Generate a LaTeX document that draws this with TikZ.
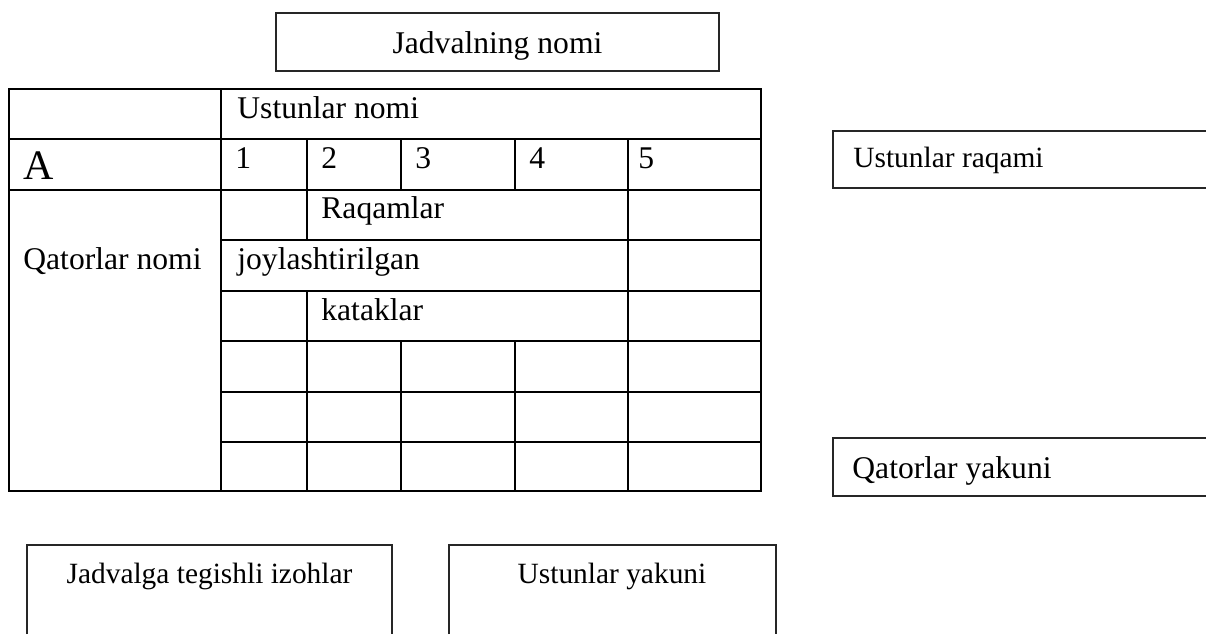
\documentclass[tikz,border=0pt]{standalone}
\usepackage{fontspec}
\setmainfont{Liberation Serif}
\begin{document}
\begin{tikzpicture}[x=0.5pt,y=-0.5pt,
  tline/.style={line width=0.8pt, draw=black},
  boxline/.style={line width=0.55pt, draw=black!85},
  big/.style={font=\fontsize{15.8}{18}\selectfont},
  mid/.style={font=\fontsize{14.7}{17}\selectfont},
  huge/.style={font=\fontsize{21}{24}\selectfont},
  lw/.style={anchor=base west, inner sep=0pt},
  lc/.style={anchor=base, inner sep=0pt}]
\useasboundingbox (0,0) rectangle (1206,634);
% ---- outer boxes ----
\draw[boxline] (276,13) rectangle (719,71);
\draw[boxline] (1206,131) -- (833,131) -- (833,188) -- (1206,188);
\draw[boxline] (1206,438) -- (833,438) -- (833,496) -- (1206,496);
\draw[boxline] (27,634) -- (27,545) -- (392,545) -- (392,634);
\draw[boxline] (449,634) -- (449,545) -- (776,545) -- (776,634);
% ---- table ----
\draw[tline] (9,89) rectangle (761,491);
\draw[tline] (9,139) -- (761,139);
\draw[tline] (9,190) -- (761,190);
\foreach \y in {240,291,341,392,442} \draw[tline] (221,\y) -- (761,\y);
\draw[tline] (221,89) -- (221,491);
\draw[tline] (307,139) -- (307,240);
\draw[tline] (307,291) -- (307,491);
\draw[tline] (401,139) -- (401,190);
\draw[tline] (401,341) -- (401,491);
\draw[tline] (515,139) -- (515,190);
\draw[tline] (515,341) -- (515,491);
\draw[tline] (628,139) -- (628,491);
% ---- texts ----
\node[lc,big] (title) at (497.5,53) {Jadvalning nomi};
\node[lw,big] (colname) at (237,118) {Ustunlar nomi};
\node[lw,huge] (a) at (23,179) {A};
\node[lw,big] (n1) at (235,168) {1};
\node[lw,big] (n2) at (321,168) {2};
\node[lw,big] (n3) at (415,168) {3};
\node[lw,big] (n4) at (529,168) {4};
\node[lw,big] (n5) at (638,168) {5};
\node[lw,big] (raq) at (321,218) {Raqamlar};
\node[lw,big] (joy) at (237,269) {joylashtirilgan};
\node[lw,big] (kat) at (321,320) {kataklar};
\node[lw,big] (rowname) at (23,269) {Qatorlar nomi};
\node[lw,mid] (colnum) at (853,167) {Ustunlar raqami};
\node[lw,big] (rowsum) at (852,478) {Qatorlar yakuni};
\node[lc,mid] (notes) at (209.5,583) {Jadvalga tegishli izohlar};
\node[lc,mid] (colsum) at (612,583) {Ustunlar yakuni};
\end{tikzpicture}
\end{document}
